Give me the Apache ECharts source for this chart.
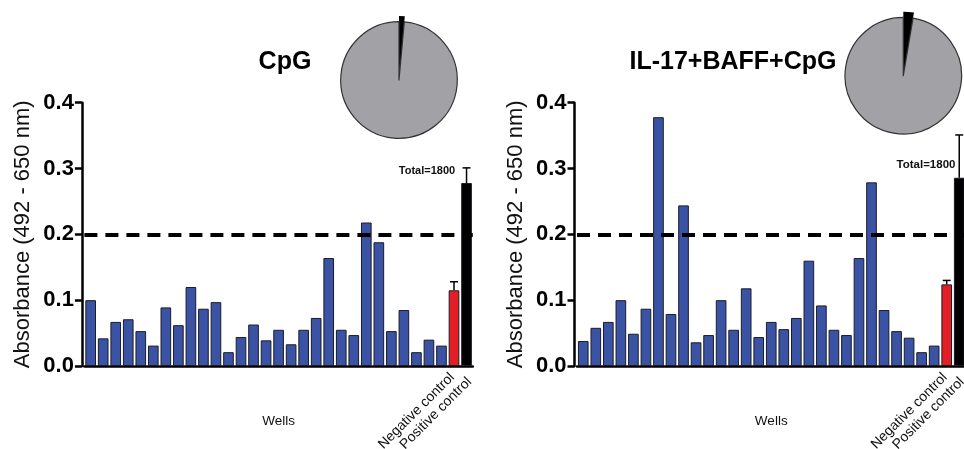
<!DOCTYPE html>
<html>
<head>
<meta charset="utf-8">
<script src="https://cdn.jsdelivr.net/npm/echarts@6/dist/echarts.min.js"></script>
<style>
  html, body { margin: 0; padding: 0; background: #fff; }
  #container { width: 964px; height: 449px; }
</style>
</head>
<body>
<div id="container"></div>
<script>
// wells + the two controls
var categories = ['1','2','3','4','5','6','7','8','9','10','11','12','13','14','15',
    '16','17','18','19','20','21','22','23','24','25','26','27','28','29',
    'Negative control','Positive control'];

// CpG
var cpgWells = [0.100, 0.042, 0.067, 0.071, 0.053, 0.031, 0.089, 0.062, 0.120, 0.087,
    0.097, 0.021, 0.044, 0.063, 0.039, 0.055, 0.033, 0.055, 0.073, 0.164,
    0.055, 0.047, 0.218, 0.188, 0.053, 0.085, 0.021, 0.040, 0.031];
var cpgControls = [0.115, 0.278];
var cpgControlsErr = [0.128, 0.301];

// IL-17+BAFF+CpG
var mixWells = [0.038, 0.058, 0.067, 0.100, 0.049, 0.087, 0.378, 0.079, 0.244, 0.036,
    0.047, 0.100, 0.055, 0.118, 0.044, 0.067, 0.056, 0.073, 0.160, 0.092,
    0.055, 0.047, 0.164, 0.279, 0.085, 0.053, 0.043, 0.021, 0.031];
var mixControls = [0.124, 0.286];
var mixControlsErr = [0.130, 0.351];

var threshold = 0.2;
var total = 1800;
var cpgPositive = 26;
var mixPositive = 48;

var yTicks = [0, 0.1, 0.2, 0.3, 0.4];

var FONT = 'Liberation Sans, Arial, sans-serif';
var BLUE = '#3a53a4', RED = '#e31e26';

var barData = function (wells, controls) {
    var out = [];
    for (var i = 0; i < wells.length; i++) {
        out.push({value: wells[i], itemStyle: {color: BLUE}});
    }
    out.push({value: controls[0], itemStyle: {color: RED}});
    out.push({value: controls[1], itemStyle: {color: '#000'}});
    return out;
};

var errData = function (wells, controls, err) {
    return [
        [wells.length, controls[0], err[0]],
        [wells.length + 1, controls[1], err[1]]
    ];
};

var renderErr = function (params, api) {
    var top = api.coord([api.value(0), api.value(2)]);
    var base = api.coord([api.value(0), api.value(1)]);
    var style = {stroke: '#000', lineWidth: 1.5};
    return {
        type: 'group',
        children: [
            {type: 'line', shape: {x1: top[0], y1: top[1], x2: base[0], y2: base[1]}, style: style},
            {type: 'line', shape: {x1: top[0] - 4, y1: top[1], x2: top[0] + 4, y2: top[1]}, style: style}
        ]
    };
};

var xAxisFor = function (idx) {
    return {
        type: 'category',
        gridIndex: idx,
        data: categories,
        name: 'Wells',
        nameLocation: 'middle',
        nameGap: 48,
        nameMoveOverlap: false,
        nameTextStyle: {fontFamily: FONT, fontSize: 13.5, color: '#111'},
        axisLine: {lineStyle: {color: '#000', width: 2.5}},
        axisTick: {show: false},
        axisLabel: {
            interval: 0,
            rotate: 45,
            margin: 11,
            fontFamily: FONT,
            fontSize: 14,
            color: '#111',
            // spread the two rotated control labels a little apart
            formatter: function (v) {
                if (v === 'Negative control') return '{neg|' + v + '}';
                if (v === 'Positive control') return '{pos|' + v + '}';
                return '';
            },
            rich: {
                neg: {fontFamily: FONT, fontSize: 14, color: '#111', padding: [0, 0, 5, 0]},
                pos: {fontFamily: FONT, fontSize: 14, color: '#111', padding: [8, 0, 0, 0]}
            }
        }
    };
};

var yAxisFor = function (idx) {
    return {
        type: 'value',
        gridIndex: idx,
        min: yTicks[0],
        max: yTicks[yTicks.length - 1],
        interval: 0.1,
        offset: 2.5,
        name: 'Absorbance (492 - 650 nm)',
        nameLocation: 'middle',
        nameGap: 48,
        nameMoveOverlap: false,
        nameTextStyle: {fontFamily: FONT, fontSize: 22, color: '#111'},
        axisLine: {show: true, lineStyle: {color: '#000', width: 2.5}},
        axisTick: {show: true, length: 7, lineStyle: {color: '#000', width: 2.5}},
        splitLine: {show: false},
        axisLabel: {
            margin: 8,
            fontFamily: FONT,
            fontSize: 22,
            fontWeight: 'bold',
            color: '#000',
            formatter: function (v) { return v.toFixed(1); }
        }
    };
};

var barSeries = function (idx, wells, controls) {
    return {
        type: 'bar',
        xAxisIndex: idx,
        yAxisIndex: idx,
        data: barData(wells, controls),
        barCategoryGap: '15%',
        itemStyle: {borderColor: '#1c1c26', borderWidth: 1},
        markLine: {
            silent: true,
            symbol: 'none',
            label: {show: false},
            lineStyle: {color: '#000', width: 4, type: [13, 8]},
            data: [{yAxis: threshold}]
        }
    };
};

var pieSeries = function (center, positive, r, negColor, border) {
    return {
        type: 'pie',
        center: center,
        radius: r,
        startAngle: 90,
        clockwise: true,
        silent: true,
        label: {show: false},
        labelLine: {show: false},
        data: [
            {value: positive, itemStyle: {color: '#000'}},
            {value: total - positive, itemStyle: {color: negColor, borderColor: border, borderWidth: border ? 1.2 : 0}}
        ]
    };
};

var dom = document.getElementById('container');
var myChart = echarts.init(dom);

var option = {
    backgroundColor: '#fff',
    animation: false,
    title: [
        {text: 'CpG', left: 280, top: 45, textAlign: 'center',
            textStyle: {fontFamily: FONT, fontSize: 25, fontWeight: 'bold', color: '#000'}},
        {text: 'IL-17+BAFF+CpG', left: 728, top: 45, textAlign: 'center',
            textStyle: {fontFamily: FONT, fontSize: 25, fontWeight: 'bold', color: '#000'}},
        {text: 'Total=' + total, left: 422, top: 160, textAlign: 'center',
            textStyle: {fontFamily: FONT, fontSize: 11, fontWeight: 'bold', color: '#111'}},
        {text: 'Total=' + total, left: 921, top: 154, textAlign: 'center',
            textStyle: {fontFamily: FONT, fontSize: 11.5, fontWeight: 'bold', color: '#111'}}
    ],
    grid: [
        {left: 84.4, right: 491.2, top: 102.7, bottom: 83, outerBoundsMode: 'none', containLabel: false},
        {left: 577, right: -1.5, top: 102.7, bottom: 83, outerBoundsMode: 'none', containLabel: false}
    ],
    xAxis: [xAxisFor(0), xAxisFor(1)],
    yAxis: [yAxisFor(0), yAxisFor(1)],
    series: [
        barSeries(0, cpgWells, cpgControls),
        barSeries(1, mixWells, mixControls),
        {type: 'custom', xAxisIndex: 0, yAxisIndex: 0, renderItem: renderErr,
            data: errData(cpgWells, cpgControls, cpgControlsErr), z: 5},
        {type: 'custom', xAxisIndex: 1, yAxisIndex: 1, renderItem: renderErr,
            data: errData(mixWells, mixControls, mixControlsErr), z: 5},
        pieSeries([399, 80], cpgPositive, 64, 'rgba(0,0,0,0)', null),
        pieSeries([399, 80], cpgPositive, 58.3, '#a2a2a6', '#333'),
        pieSeries([903.3, 75.7], mixPositive, 64, 'rgba(0,0,0,0)', null),
        pieSeries([903.3, 75.7], mixPositive, 58.3, '#a2a2a6', '#333')
    ]
};

if (option && typeof option === 'object') {
    myChart.setOption(option);
}
</script>
</body>
</html>
